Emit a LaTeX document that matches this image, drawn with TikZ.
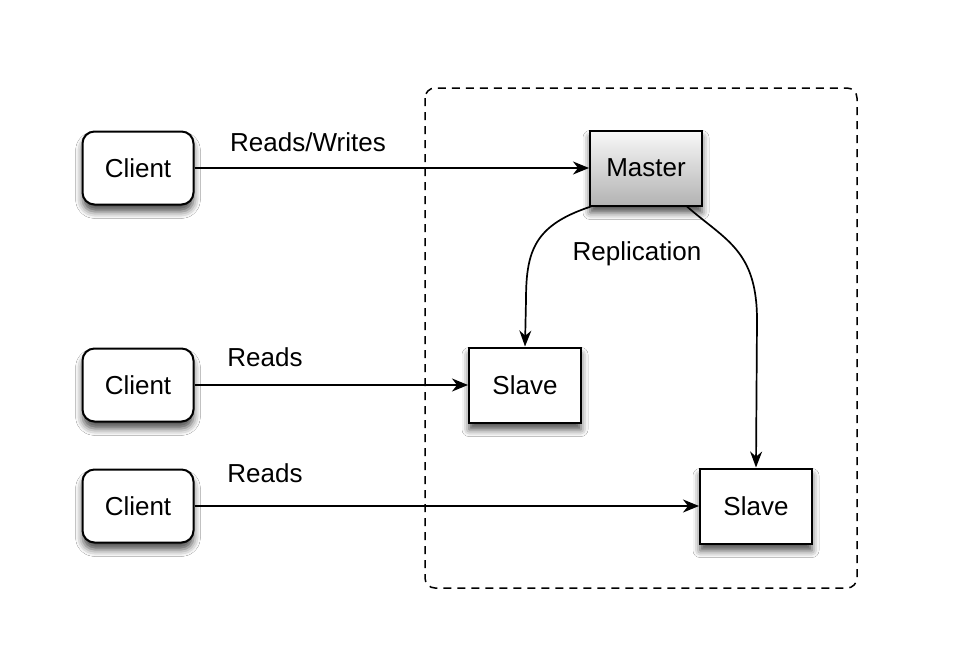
\documentclass[tikz,border=0pt]{standalone}
\usepackage{fontspec}
\setmainfont{Liberation Sans}
\usetikzlibrary{arrows.meta,shadows.blur}
\begin{document}
\begin{tikzpicture}[x=1pt,y=-1pt,
  every node/.style={font=\fontsize{26}{30}\selectfont},
  boxshadow/.style={blur shadow={shadow xshift=0pt,shadow yshift=-7pt,shadow blur radius=7pt,shadow opacity=70}},
  clientbox/.style={draw,line width=2pt,rounded corners=12pt,fill=white,minimum width=111pt,minimum height=73pt,boxshadow},
  serverbox/.style={draw,line width=2pt,fill=white,minimum width=112pt,minimum height=75pt,boxshadow},
  masterbox/.style={serverbox,top color=gray!5,bottom color=gray!60},
  conn/.style={line width=1.7pt,-{Stealth[length=16pt,width=13pt,inset=5pt]}},
  repl/.style={line width=1.7pt,-{Stealth[length=16pt,width=12pt]}},
  lbl/.style={inner sep=0pt}]
\useasboundingbox (0,0) rectangle (958,669);
\fill[white] (0,0) rectangle (958,669);
\draw[dashed,line width=1.5pt,dash pattern=on 8pt off 6pt,rounded corners=10pt] (425,88) rectangle (857,588);
\node[clientbox] (c1) at (138,168) {Client};
\node[clientbox] (c2) at (138,385) {Client};
\node[clientbox] (c3) at (138,506) {Client};
\node[masterbox] (m) at (646,168) {Master};
\node[serverbox] (s1) at (525,385) {Slave};
\node[serverbox] (s2) at (756,506) {Slave};
\draw[conn] (c1.east) -- (m.west);
\draw[conn] (c2.east) -- (s1.west);
\draw[conn] (c3.east) -- (s2.west);
\node[lbl] (l1) at (308,142) {Reads/Writes};
\node[lbl] (l2) at (265,357) {Reads};
\node[lbl] (l3) at (265,473) {Reads};
\node[lbl] (l4) at (637,254) {Replication};
\coordinate (a1) at ([xshift=2pt]m.south west);
\coordinate (a2) at ([xshift=-16pt]m.south east);
\draw[repl] (a1) .. controls (535,225) and (526,250) .. (526,300) -- (s1.north);
\draw[repl] (a2) .. controls (725,240) and (757,250) .. (757,320) -- (s2.north);
\end{tikzpicture}
\end{document}
